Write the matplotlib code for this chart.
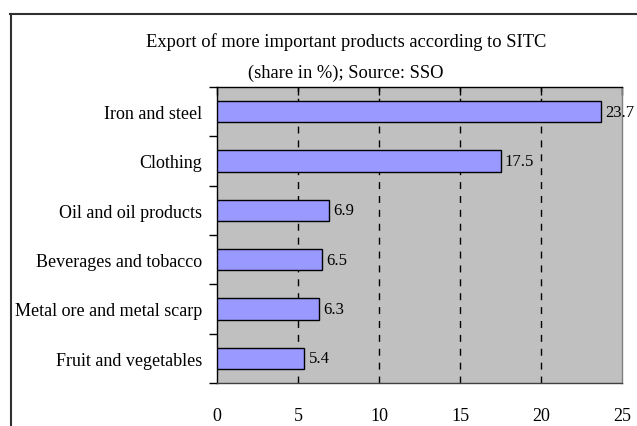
import matplotlib
matplotlib.use("Agg")
import matplotlib.pyplot as plt
from matplotlib.lines import Line2D

categories = ["Iron and steel", "Clothing", "Oil and oil products",
              "Beverages and tobacco", "Metal ore and metal scarp",
              "Fruit and vegetables"]
values = [23.7, 17.5, 6.9, 6.5, 6.3, 5.4]
x_ticks = [0, 5, 10, 15, 20, 25]
title_lines = ["Export of more important products according to SITC",
               "(share in %); Source: SSO"]

plt.rcParams['font.family'] = ['Liberation Serif', 'DejaVu Serif']

W, H = 637, 427
fig = plt.figure(figsize=(W / 100, H / 100), dpi=100)
fig.patch.set_facecolor('white')

L, R, T, B = 217, 622, 88, 384
ax = fig.add_axes([L / W, 1 - B / H, (R - L) / W, (B - T) / H])
ax.set_facecolor('#C0C0C0')

n = len(categories)
ypos = list(range(n))
ax.barh(ypos, values, height=0.43, color='#9999FF', edgecolor='black',
        linewidth=1.0, zorder=3)
ax.set_ylim(n - 0.5, -0.5)
ax.set_xlim(x_ticks[0], x_ticks[-1])

for xv in x_ticks[1:-1]:
    ax.axvline(xv, color='black', linestyle=(0, (5, 5)), linewidth=1.0, zorder=2)

for y, v in zip(ypos, values):
    ax.annotate(f"{v:.1f}", (v, y), xytext=(3, 0), textcoords='offset points',
                ha='left', va='center', fontsize=12, color='black', zorder=4)

ax.set_yticks(ypos)
ax.set_yticklabels(categories, fontsize=13)
ax.tick_params(axis='y', which='major', length=0, pad=10.8)
ax.set_yticks([i - 0.5 for i in range(n + 1)], minor=True)
ax.tick_params(axis='y', which='minor', length=6, direction='out', width=1.0)

ax.set_xticks(x_ticks)
ax.set_xticklabels([str(t) for t in x_ticks], fontsize=13)
ax.tick_params(axis='x', which='major', bottom=False, top=True, direction='in',
               length=6, pad=17.5, labelbottom=True, labeltop=False, width=1.0)

for s in ['left', 'top']:
    ax.spines[s].set_color('black')
    ax.spines[s].set_linewidth(1.0)
ax.spines['right'].set_color('#808080')
ax.spines['right'].set_linewidth(1.0)
ax.spines['bottom'].set_color('#404040')
ax.spines['bottom'].set_linewidth(1.0)

cx = 346 / W
fig.text(cx, 1 - 42 / H, title_lines[0], ha='center', va='center', fontsize=13.3)
fig.text(cx, 1 - 73 / H, title_lines[1], ha='center', va='center', fontsize=13.3)

fig.add_artist(Line2D([10.5 / W, 10.5 / W], [0, 1 - 15 / H], transform=fig.transFigure,
                      color='#303030', linewidth=1.5))
fig.add_artist(Line2D([10 / W, 1], [1 - 15 / H, 1 - 15 / H], transform=fig.transFigure,
                      color='#303030', linewidth=1.5))

fig.savefig('out.png', dpi=100)
